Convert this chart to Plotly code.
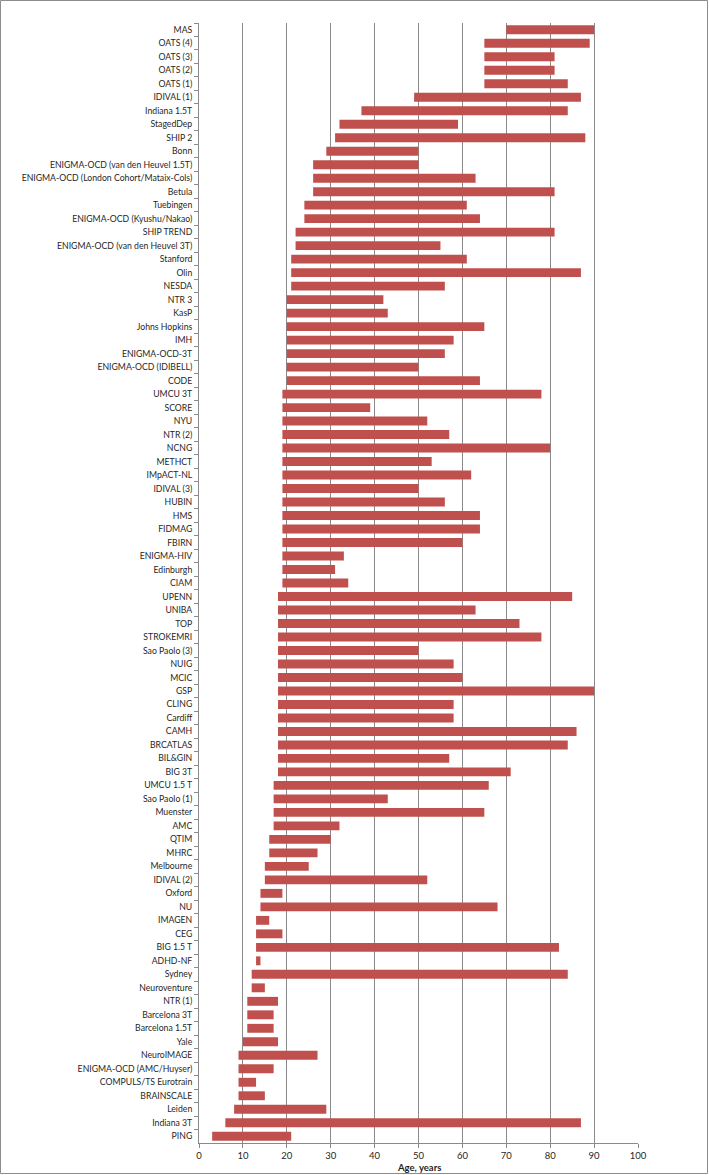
import plotly.graph_objects as go

cohorts = [
    "MAS", "OATS (4)", "OATS (3)", "OATS (2)", "OATS (1)", "IDIVAL (1)", "Indiana 1.5T",
    "StagedDep", "SHIP 2", "Bonn", "ENIGMA-OCD (van den Heuvel 1.5T)",
    "ENIGMA-OCD (London Cohort/Mataix-Cols)", "Betula", "Tuebingen",
    "ENIGMA-OCD (Kyushu/Nakao)", "SHIP TREND", "ENIGMA-OCD (van den Heuvel 3T)",
    "Stanford", "Olin", "NESDA", "NTR 3", "KasP", "Johns Hopkins", "IMH",
    "ENIGMA-OCD-3T", "ENIGMA-OCD (IDIBELL)", "CODE", "UMCU 3T", "SCORE", "NYU",
    "NTR (2)", "NCNG", "METHCT", "IMpACT-NL", "IDIVAL (3)", "HUBIN", "HMS", "FIDMAG",
    "FBIRN", "ENIGMA-HIV", "Edinburgh", "CIAM", "UPENN", "UNIBA", "TOP", "STROKEMRI",
    "Sao Paolo (3)", "NUIG", "MCIC", "GSP", "CLING", "Cardiff", "CAMH", "BRCATLAS",
    "BIL&GIN", "BIG 3T", "UMCU 1.5 T", "Sao Paolo (1)", "Muenster", "AMC", "QTIM",
    "MHRC", "Melbourne", "IDIVAL (2)", "Oxford", "NU", "IMAGEN", "CEG", "BIG 1.5 T",
    "ADHD-NF", "Sydney", "Neuroventure", "NTR (1)", "Barcelona 3T", "Barcelona 1.5T",
    "Yale", "NeuroIMAGE", "ENIGMA-OCD (AMC/Huyser)", "COMPULS/TS Eurotrain",
    "BRAINSCALE", "Leiden", "Indiana 3T", "PING",
]

start_age = [
    70, 65, 65, 65, 65, 49, 37,
    32, 31, 29, 26,
    26, 26, 24,
    24, 22, 22,
    21, 21, 21, 20, 20, 20, 20,
    20, 20, 20, 19, 19, 19,
    19, 19, 19, 19, 19, 19, 19, 19,
    19, 19, 19, 19, 18, 18, 18, 18,
    18, 18, 18, 18, 18, 18, 18, 18,
    18, 18, 17, 17, 17, 17, 16,
    16, 15, 15, 14, 14, 13, 13, 13,
    13, 12, 12, 11, 11, 11,
    10, 9, 9, 9,
    9, 8, 6, 3,
]

end_age = [
    90, 89, 81, 81, 84, 87, 84,
    59, 88, 50, 50,
    63, 81, 61,
    64, 81, 55,
    61, 87, 56, 42, 43, 65, 58,
    56, 50, 64, 78, 39, 52,
    57, 80, 53, 62, 50, 56, 64, 64,
    60, 33, 31, 34, 85, 63, 73, 78,
    50, 58, 60, 90, 58, 58, 86, 84,
    57, 71, 66, 43, 65, 32, 30,
    27, 25, 52, 19, 68, 16, 19, 82,
    14, 84, 15, 18, 17, 17,
    18, 27, 17, 13,
    15, 29, 87, 21,
]

x_ticks = [0, 10, 20, 30, 40, 50, 60, 70, 80, 90, 100]

durations = [e - s for s, e in zip(start_age, end_age)]

W, H = 709, 1175
ML, MR, MT, MB = 199, 71, 23, 32
PW, PH = W - ML - MR, H - MT - MB

font_fam = "Lato, Open Sans, sans-serif"
txt_col = "#1f1f1f"
axis_col = "#8a8a8a"

fig = go.Figure()
fig.add_trace(go.Bar(
    y=cohorts,
    x=durations,
    base=start_age,
    orientation="h",
    marker=dict(color="#C0504D", line=dict(width=0)),
    width=0.66,
    hoverinfo="skip",
))

def px2paper_x(px):
    return (px - ML) / PW

def px2paper_y(py):
    return (H - MB - py) / PH

fig.add_shape(
    type="rect", xref="paper", yref="paper", layer="below",
    x0=px2paper_x(0.5), x1=px2paper_x(W - 1.5),
    y0=px2paper_y(H - 1.5), y1=px2paper_y(0.5),
    line=dict(color="#8c8c8c", width=1), fillcolor="rgba(0,0,0,0)",
)

fig.add_annotation(
    text="<b>Age, years</b>", xref="paper", yref="paper",
    x=0.5, y=px2paper_y(1167), xanchor="center", yanchor="middle",
    showarrow=False, font=dict(family=font_fam, size=9.5, color=txt_col),
)

fig.update_layout(
    width=W, height=H,
    margin=dict(l=ML, r=MR, t=MT, b=MB, pad=0),
    paper_bgcolor="white", plot_bgcolor="white",
    showlegend=False,
    font=dict(family=font_fam, size=9, color=txt_col),
    xaxis=dict(
        range=[0, 100], tickvals=x_ticks, ticktext=[str(v) for v in x_ticks],
        showgrid=True, gridcolor=axis_col, gridwidth=1,
        showline=True, linecolor=axis_col, linewidth=1,
        ticks="outside", ticklen=4, tickcolor=axis_col,
        tickfont=dict(family=font_fam, size=9.5, color=txt_col),
        zeroline=False, fixedrange=True, automargin=False,
    ),
    yaxis=dict(
        type="category", categoryorder="array", categoryarray=cohorts,
        autorange="reversed",
        showgrid=False, showline=True, linecolor=axis_col, linewidth=1,
        ticks="outside", ticklen=4, tickcolor=axis_col, tickson="boundaries",
        ticklabelstandoff=4,
        tickfont=dict(family=font_fam, size=8.7, color=txt_col),
        fixedrange=True, automargin=False,
    ),
)

fig.write_html(
    "out.html",
    config={"displayModeBar": False},
    post_script="document.body.style.margin='0';document.body.style.padding='0';document.body.style.overflow='hidden';",
)
